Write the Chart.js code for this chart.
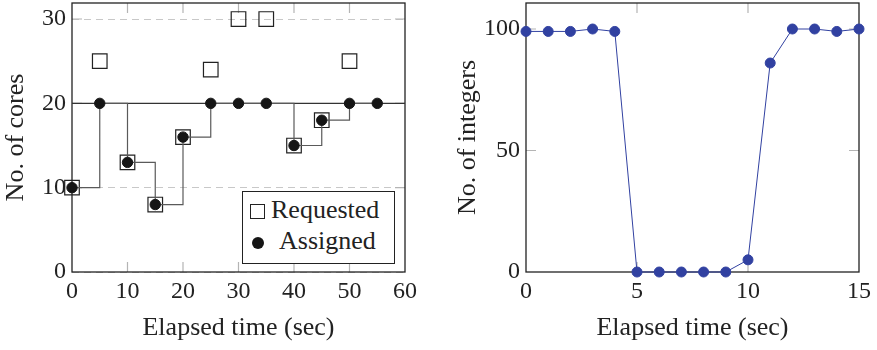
<!DOCTYPE html>
<html>
<head>
<meta charset="utf-8">
<script src="https://cdn.jsdelivr.net/npm/chart.js@4"></script>
<style>
  body { margin: 0; background: #fff; }
  #wrap { position: relative; width: 877px; height: 350px; }
  canvas { position: absolute; top: 0; }
  #coresChart { left: 0; }
  #intChart { left: 438px; }
  .legend { position: absolute; left: 242px; top: 191px; width: 151px; height: 71px;
    border: 1px solid #222; background: #fff; font: 26px "Liberation Serif"; color: #222; }
  .legend span { position: absolute; line-height: 26px; white-space: nowrap; }
  .legend .sq { position: absolute; left: 7px; top: 12px; width: 13px; height: 13px; border: 1.2px solid #222; }
  .legend .dot { position: absolute; left: 9px; top: 45px; width: 12px; height: 12px; border-radius: 50%; background: #151515; }
</style>
</head>
<body>
<div id="wrap">
  <canvas id="coresChart" width="438" height="350"></canvas>
  <canvas id="intChart" width="439" height="350"></canvas>
  <div class="legend">
    <div class="sq"></div><span style="left:28px;top:5px">Requested</span>
    <div class="dot"></div><span style="left:36px;top:36px">Assigned</span>
  </div>
</div>
<script>
// left chart: cores
const coreTime = [0, 5, 10, 15, 20, 25, 30, 35, 40, 45, 50, 55];
const requested = [10, 25, 13, 8, 16, 24, 30, 30, 15, 18, 25];
const assigned = [10, 20, 13, 8, 16, 20, 20, 20, 15, 18, 20, 20];
const coreLimit = [20, 20];
const coreLimitX = [0, 60];
const coreTicksX = [0, 10, 20, 30, 40, 50, 60];
const coreTicksY = [0, 10, 20, 30];

// right chart: integers
const intTime = [0, 1, 2, 3, 4, 5, 6, 7, 8, 9, 10, 11, 12, 13, 14, 15];
const intCount = [99, 99, 99, 100, 99, 0, 0, 0, 0, 0, 5, 86, 100, 100, 99, 100];
const intTicksX = [0, 5, 10, 15];
const intTicksY = [0, 50, 100];

const ink = "#222";
const tickFont = { family: "'Liberation Serif'", size: 24 };
const titleFont = { family: "'Liberation Serif'", size: 26 };
const blue = "#3141a1";

const toPts = (xs, ys) => ys.map((v, i) => ({ x: xs[i], y: v }));
const fixTicks = (vals) => (s) => { s.ticks = vals.map((v) => ({ value: v })); };
const noPad = (s) => { s.paddingTop = 0; s.paddingBottom = 0; s.paddingLeft = 0; s.paddingRight = 0; };

// box around plot area + inward tick marks (pgfplots look)
const framePlugin = {
  id: "frame",
  beforeDatasetsDraw(chart) {
    const { ctx, chartArea: a, scales: { x, y } } = chart;
    ctx.save();
    ctx.strokeStyle = "#b4b4b4";
    ctx.lineWidth = 1.2;
    ctx.beginPath();
    x.ticks.forEach((t) => {
      const px = x.getPixelForValue(t.value);
      if (px <= a.left + 1 || px >= a.right - 1) return;
      ctx.moveTo(px, a.bottom); ctx.lineTo(px, a.bottom - 10);
      ctx.moveTo(px, a.top); ctx.lineTo(px, a.top + 10);
    });
    y.ticks.forEach((t) => {
      const py = y.getPixelForValue(t.value);
      if (py >= a.bottom - 1 || py <= a.top + 1) return;
      ctx.moveTo(a.left, py); ctx.lineTo(a.left + 10, py);
      ctx.moveTo(a.right, py); ctx.lineTo(a.right - 10, py);
    });
    ctx.stroke();
    ctx.strokeStyle = ink;
    ctx.lineWidth = 1.3;
    ctx.strokeRect(a.left, a.top, a.width, a.height);
    ctx.restore();
  },
};

function axes(xr, yr, xt, yt, yw, yTitle, yTitlePad, yGrid) {
  return {
    x: {
      type: "linear", min: xr[0], max: xr[1],
      afterBuildTicks: fixTicks(xt),
      afterFit: (s) => { s.height = 78; noPad(s); },
      grid: { display: false, drawTicks: false },
      border: { display: false },
      ticks: { font: tickFont, color: ink, padding: 5, maxRotation: 0, autoSkip: false },
      title: { display: true, text: "Elapsed time (sec)", font: titleFont, color: ink, padding: { top: 0, bottom: 6 } },
    },
    y: {
      min: yr[0], max: yr[1],
      afterBuildTicks: fixTicks(yt),
      afterFit: (s) => { s.width = yw; noPad(s); },
      grid: { display: yGrid, drawTicks: false, color: "#c8c8c8", lineWidth: 1 },
      border: { display: false, dash: [7, 5] },
      ticks: { font: tickFont, color: ink, padding: 6 },
      title: { display: true, text: yTitle, font: titleFont, color: ink, padding: { top: yTitlePad, bottom: 0 } },
    },
  };
}

new Chart(document.getElementById("coresChart"), {
  type: "line",
  data: {
    datasets: [
      {
        label: "Assigned",
        data: toPts(coreTime, assigned),
        stepped: true,
        borderColor: "#5a5a5a", borderWidth: 1.2,
        pointRadius: 5.2, pointBorderWidth: 1,
        pointBackgroundColor: "#151515", pointBorderColor: "#151515",
        clip: false,
      },
      {
        label: "Requested",
        data: toPts(coreTime, requested),
        showLine: false,
        pointStyle: "rect", pointRadius: 10.3, pointBorderWidth: 1.2,
        pointBackgroundColor: "rgba(255,255,255,0)", pointBorderColor: ink,
        clip: false,
      },
      {
        label: "Limit",
        data: toPts(coreLimitX, coreLimit),
        borderColor: "#333", borderWidth: 1.2, pointRadius: 0,
      },
    ],
  },
  options: {
    responsive: false, animation: false, devicePixelRatio: 1,
    layout: { autoPadding: false, padding: { top: 3, right: 33, left: 0, bottom: 0 } },
    plugins: { legend: { display: false }, tooltip: { enabled: false } },
    scales: axes([0, 60], [0, 31.9], coreTicksX, coreTicksY, 72, "No. of cores", 1, true),
  },
  plugins: [framePlugin],
});

new Chart(document.getElementById("intChart"), {
  type: "line",
  data: {
    datasets: [
      {
        label: "Integers",
        data: toPts(intTime, intCount),
        borderColor: blue, borderWidth: 1,
        pointRadius: 5, pointBorderWidth: 1,
        pointBackgroundColor: blue, pointBorderColor: blue,
        clip: false,
      },
    ],
  },
  options: {
    responsive: false, animation: false, devicePixelRatio: 1,
    layout: { autoPadding: false, padding: { top: 3, right: 18, left: 0, bottom: 0 } },
    plugins: { legend: { display: false }, tooltip: { enabled: false } },
    scales: axes([0, 15], [0, 110.7], intTicksX, intTicksY, 88, "No. of integers", 15, false),
  },
  plugins: [framePlugin],
});
</script>
</body>
</html>
